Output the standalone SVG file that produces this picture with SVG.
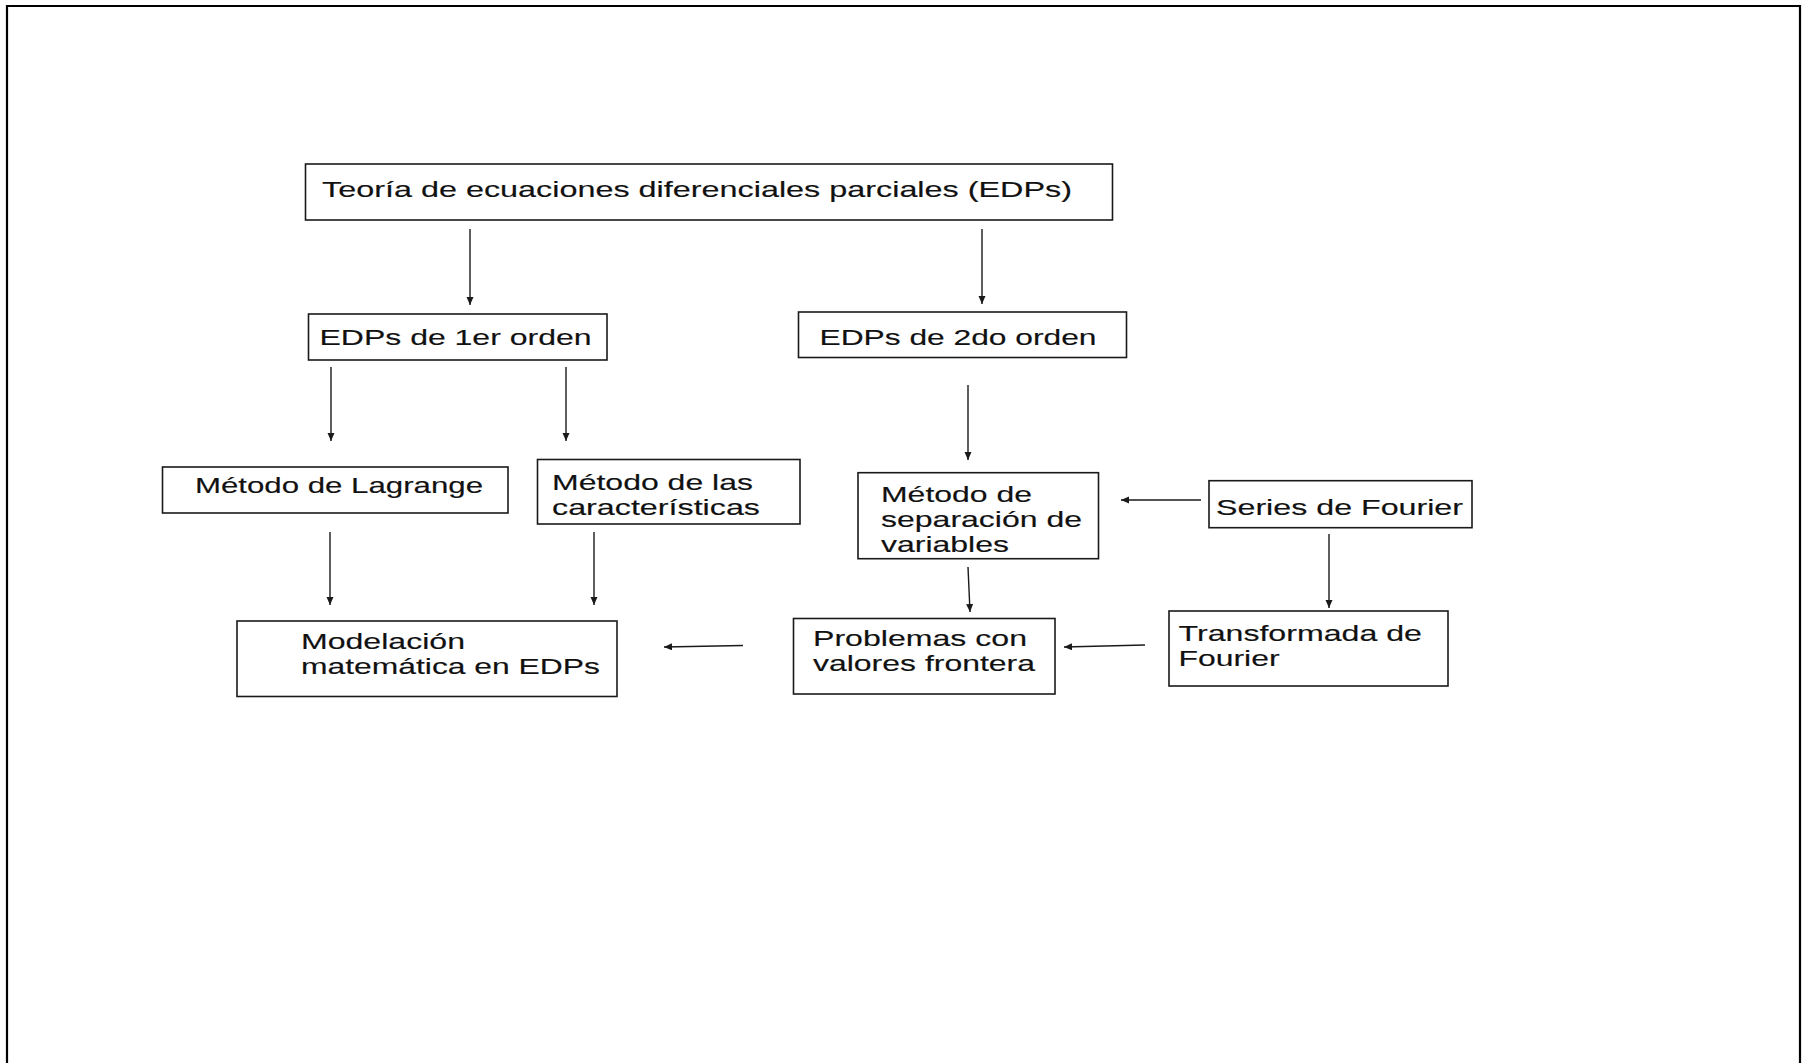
<svg xmlns="http://www.w3.org/2000/svg" width="1807" height="1063" viewBox="0 0 1807 1063">
<defs>
<style>
.box{fill:#fff;stroke:#1a1a1a;stroke-width:1.6}
.t{font-family:"Liberation Sans",Arial,sans-serif;font-size:22.3px;fill:#111;stroke:#111;stroke-width:0.15}
.c{stroke:#1a1a1a;stroke-width:1.4;fill:none}
</style>
<marker id="ah" markerUnits="userSpaceOnUse" markerWidth="8" markerHeight="8" refX="8" refY="3.5" orient="auto">
<path d="M0,0 L8,3.5 L0,7 z" fill="#1a1a1a"/>
</marker>
</defs>
<rect x="0" y="0" width="1807" height="1063" fill="#fff"/>
<path d="M7,1063 V6 H1800 V1063" fill="none" stroke="#000" stroke-width="2.2"/>

<g id="connectors">
<path class="c" d="M470,229 V305" marker-end="url(#ah)"/>
<path class="c" d="M982,229 V304" marker-end="url(#ah)"/>
<path class="c" d="M331,367 V441" marker-end="url(#ah)"/>
<path class="c" d="M566,367 V441" marker-end="url(#ah)"/>
<path class="c" d="M968,385 V460" marker-end="url(#ah)"/>
<path class="c" d="M1201,500 H1121" marker-end="url(#ah)"/>
<path class="c" d="M1329,534 V608" marker-end="url(#ah)"/>
<path class="c" d="M968,567 L970,612" marker-end="url(#ah)"/>
<path class="c" d="M1145,645 L1064,647" marker-end="url(#ah)"/>
<path class="c" d="M743,645.5 L664,647" marker-end="url(#ah)"/>
<path class="c" d="M330,532 V605" marker-end="url(#ah)"/>
<path class="c" d="M594,532 V605" marker-end="url(#ah)"/>
</g>

<g id="n-teoria">
<rect class="box" x="305.5" y="164" width="807" height="56"/>
<text class="t" x="322" y="196.5" textLength="750" lengthAdjust="spacingAndGlyphs">Teoría de ecuaciones diferenciales parciales (EDPs)</text>
</g>
<g id="n-edp1">
<rect class="box" x="308.5" y="314" width="298.5" height="46"/>
<text class="t" x="319.5" y="345" textLength="272" lengthAdjust="spacingAndGlyphs">EDPs de 1er orden</text>
</g>
<g id="n-edp2">
<rect class="box" x="798.5" y="312" width="328" height="45.5"/>
<text class="t" x="819.5" y="344.5" textLength="277" lengthAdjust="spacingAndGlyphs">EDPs de 2do orden</text>
</g>
<g id="n-lagrange">
<rect class="box" x="162.5" y="467" width="345.5" height="46"/>
<text class="t" x="195" y="493" textLength="288" lengthAdjust="spacingAndGlyphs">Método de Lagrange</text>
</g>
<g id="n-caracteristicas">
<rect class="box" x="537.5" y="459.5" width="262.5" height="64.5"/>
<text class="t" x="552" y="489.5" textLength="201" lengthAdjust="spacingAndGlyphs">Método de las</text>
<text class="t" x="552" y="514.5" textLength="208" lengthAdjust="spacingAndGlyphs">características</text>
</g>
<g id="n-separacion">
<rect class="box" x="858" y="472.7" width="240.5" height="86"/>
<text class="t" x="881" y="502" textLength="151" lengthAdjust="spacingAndGlyphs">Método de</text>
<text class="t" x="881" y="527" textLength="201" lengthAdjust="spacingAndGlyphs">separación de</text>
<text class="t" x="881" y="552" textLength="128" lengthAdjust="spacingAndGlyphs">variables</text>
</g>
<g id="n-series">
<rect class="box" x="1209" y="480.7" width="263" height="47"/>
<text class="t" x="1216" y="514.5" textLength="247" lengthAdjust="spacingAndGlyphs">Series de Fourier</text>
</g>
<g id="n-transformada">
<rect class="box" x="1169" y="611" width="279" height="75"/>
<text class="t" x="1178.5" y="640.5" textLength="243.5" lengthAdjust="spacingAndGlyphs">Transformada de</text>
<text class="t" x="1178.5" y="666" textLength="101" lengthAdjust="spacingAndGlyphs">Fourier</text>
</g>
<g id="n-problemas">
<rect class="box" x="793.5" y="618.5" width="261.5" height="75.5"/>
<text class="t" x="813" y="645.5" textLength="214" lengthAdjust="spacingAndGlyphs">Problemas con</text>
<text class="t" x="813" y="671" textLength="222" lengthAdjust="spacingAndGlyphs">valores frontera</text>
</g>
<g id="n-modelacion">
<rect class="box" x="237" y="621" width="380" height="75.5"/>
<text class="t" x="301" y="648.5" textLength="164" lengthAdjust="spacingAndGlyphs">Modelación</text>
<text class="t" x="301" y="673.5" textLength="299" lengthAdjust="spacingAndGlyphs">matemática en EDPs</text>
</g>
</svg>
